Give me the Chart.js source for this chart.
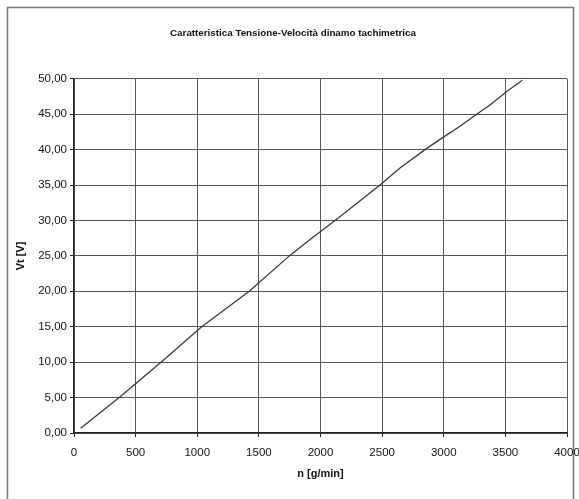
<!DOCTYPE html>
<html>
<head>
<meta charset="utf-8">
<script src="https://cdn.jsdelivr.net/npm/chart.js@4.4.0/dist/chart.umd.min.js"></script>
<style>
  html, body { margin: 0; padding: 0; background: #fff; }
  #wrap { width: 579px; height: 499px; }
</style>
</head>
<body>
<div id="wrap"><canvas id="chart" width="579" height="499"></canvas></div>
<script>
// rpm readings and tachogenerator voltage
const speed = [54, 367, 706, 1036, 1422, 1747, 1915, 2118, 2483, 2645, 2848, 3000, 3132, 3267, 3375, 3511, 3637];
const voltage = [0.66, 5.0, 10.0, 15.0, 20.0, 25.0, 27.3, 30.0, 35.0, 37.4, 40.0, 41.8, 43.3, 45.0, 46.3, 48.2, 49.8];

const chartTitle = 'Caratteristica Tensione-Velocità dinamo tachimetrica';
const xTitle = 'n [g/min]';
const yTitle = 'Vt [V]';

const font = '"Liberation Sans", Arial, sans-serif';

// white page + frame around the whole chart
const framePlugin = {
  id: 'frame',
  beforeDraw(chart) {
    const ctx = chart.ctx;
    ctx.save();
    ctx.fillStyle = '#fff';
    ctx.fillRect(0, 0, chart.width, chart.height);
    ctx.strokeStyle = '#777';
    ctx.lineWidth = 1.5;
    ctx.strokeRect(7.5, 7.5, 566, 520);
    ctx.restore();
  }
};

new Chart(document.getElementById('chart'), {
  type: 'line',
  data: {
    datasets: [{
      data: speed.map((n, i) => ({x: n, y: voltage[i]})),
      borderColor: '#3a3a3a',
      borderWidth: 1.3,
      pointRadius: 0,
      tension: 0,
      fill: false
    }]
  },
  options: {
    responsive: false,
    animation: false,
    layout: { padding: { left: 7, right: 0, top: 0, bottom: 0 } },
    plugins: {
      legend: { display: false },
      tooltip: { enabled: false },
      title: {
        display: true,
        text: chartTitle,
        color: '#111',
        font: { family: font, size: 9.8, weight: 'bold' },
        padding: { top: 27, bottom: 40 }
      }
    },
    scales: {
      x: {
        type: 'linear',
        min: 0,
        max: 4000,
        afterFit(scale) {
          scale.height = 66;
          scale.paddingLeft = 0;
          scale.paddingRight = 12;
        },
        ticks: {
          stepSize: 500,
          color: '#111',
          padding: 9,
          maxRotation: 0,
          font: { family: font, size: 11.5 },
          callback: v => String(v)
        },
        grid: { color: '#555', lineWidth: 1, tickLength: 4, tickColor: '#222' },
        border: { color: '#222', width: 1.3 },
        title: {
          display: true,
          text: xTitle,
          color: '#111',
          font: { family: font, size: 11, weight: 'bold' },
          padding: { top: 4, bottom: 18 }
        }
      },
      y: {
        min: 0,
        max: 50,
        afterFit(scale) { scale.width = 67; },
        ticks: {
          stepSize: 5,
          color: '#111',
          padding: 3,
          font: { family: font, size: 11.5 },
          callback: v => v.toFixed(2).replace('.', ',')
        },
        grid: { color: '#555', lineWidth: 1, tickLength: 4, tickColor: '#222' },
        border: { color: '#222', width: 1.3 },
        title: {
          display: true,
          text: yTitle,
          color: '#111',
          font: { family: font, size: 11, weight: 'bold' },
          padding: { top: 7, bottom: 0 }
        }
      }
    }
  },
  plugins: [framePlugin]
});
</script>
</body>
</html>
